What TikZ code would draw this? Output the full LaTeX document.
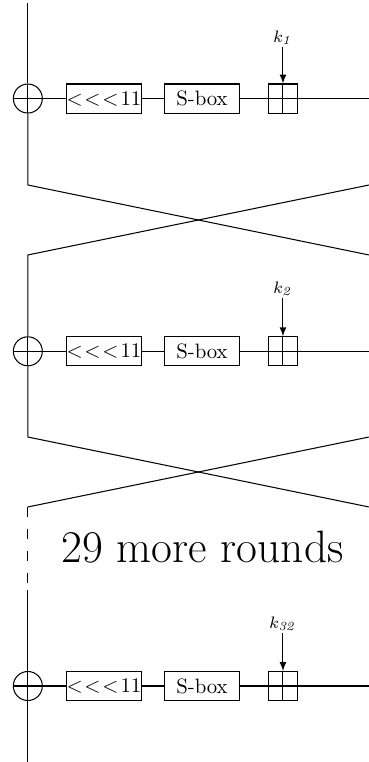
\documentclass[tikz,border=0pt]{standalone}
\usetikzlibrary{shapes,arrows}

\begin{document}
\begin{tikzpicture}[line width=0.5pt,
        box/.style={draw,minimum width=1.26cm,minimum height=0.49cm,inner sep=0pt},
        xor/.style={circle,draw,minimum size=0.49cm,inner sep=0pt,
            path picture={\draw (path picture bounding box.west) -- (path picture bounding box.east)
                (path picture bounding box.north) -- (path picture bounding box.south);}},
        adder/.style={draw,minimum size=0.49cm,inner sep=0pt,
            path picture={\draw (path picture bounding box.west) -- (path picture bounding box.east)
                (path picture bounding box.north) -- (path picture bounding box.south);}},
        key/.style={font=\footnotesize,anchor=south,inner sep=1pt}
        ]
        \useasboundingbox (0,0) rectangle (6.233,-12.872);

        % round 1
        \coordinate (top) at (0.47,-0.05);
        \node[xor] (x1) at (0.47,-1.664) {};
        \node[box] (rot1) at (1.757,-1.664) {{<}\kern.8pt{<}\kern.8pt{<}\kern1pt11};
        \node[box] (sb1) at (3.412,-1.664) {S-box};
        \node[adder] (add1) at (4.78,-1.664) {};
        \coordinate (r1) at (6.233,-1.664);
        \node[key] (k1) at (4.78,-0.794) {$k_{\mathit{1}}$};

        % round 2
        \node[xor] (x2) at (0.47,-5.934) {};
        \node[box] (rot2) at (1.757,-5.934) {{<}\kern.8pt{<}\kern.8pt{<}\kern1pt11};
        \node[box] (sb2) at (3.412,-5.934) {S-box};
        \node[adder] (add2) at (4.78,-5.934) {};
        \coordinate (r2) at (6.233,-5.934);
        \node[key] (k2) at (4.78,-5.034) {$k_{\mathit{2}}$};

        % round 32
        \node[xor] (x3) at (0.47,-11.588) {};
        \node[box] (rot3) at (1.757,-11.588) {{<}\kern.8pt{<}\kern.8pt{<}\kern1pt11};
        \node[box] (sb3) at (3.412,-11.588) {S-box};
        \node[adder] (add3) at (4.78,-11.588) {};
        \coordinate (r3) at (6.233,-11.588);
        \node[key] (k3) at (4.78,-10.693) {$k_{\mathit{32}}$};
        \coordinate (bot) at (0.47,-12.872);

        % swaps
        \coordinate (c1a) at (0.47,-3.125);
        \coordinate (c1b) at (6.233,-4.307);
        \coordinate (c1c) at (6.233,-3.125);
        \coordinate (c1d) at (0.47,-4.307);
        \coordinate (c2a) at (0.47,-7.382);
        \coordinate (c2b) at (6.233,-8.564);
        \coordinate (c2c) at (6.233,-7.382);
        \coordinate (c2d) at (0.47,-8.564);
        \coordinate (gap) at (0.47,-9.966);

        \node[font=\fontsize{21.8}{26}\selectfont,anchor=base] (more) at (3.42,-9.51) {29 more rounds};

        \draw (top) to (x1);
        \draw (x1) to (rot1) to (sb1) to (add1) to (r1);
        \draw[-latex] (k1) to (add1);
        \draw (x1) to (c1a) to (c1b);
        \draw (c1c) to (c1d) to (x2);

        \draw (x2) to (rot2) to (sb2) to (add2) to (r2);
        \draw[-latex] (k2) to (add2);
        \draw (x2) to (c2a) to (c2b);
        \draw (c2c) to (c2d);
        \draw[dash pattern=on 5pt off 5.5pt] (c2d) to (gap);

        \draw (gap) to (x3) to (bot);
        \draw (x3) to (rot3) to (sb3) to (add3) to (r3);
        \draw[-latex] (k3) to (add3);

    \end{tikzpicture}
\end{document}
